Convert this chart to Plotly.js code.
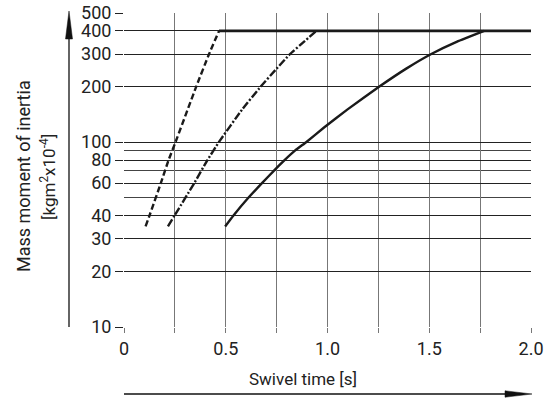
<!DOCTYPE html>
<html><head><meta charset="utf-8">
<script src="https://cdn.plot.ly/plotly-3.0.1.min.js"></script>
<style>html,body{margin:0;padding:0;background:#fff}#chart{width:553px;height:400px}</style>
</head><body><div id="chart"></div>
<script>
// Data
const dashedX = [0.106, 0.125, 0.181, 0.219, 0.253, 0.355, 0.418, 0.467];
const dashedY = [35, 40, 60, 80, 100, 200, 300, 400];
const dashDotX = [0.216, 0.248, 0.345, 0.410, 0.466, 0.580, 0.672, 0.750, 0.816, 0.885, 0.945];
const dashDotY = [35, 40, 60, 80, 100, 150, 200, 250, 300, 350, 400];
const solidX = [0.497, 0.537, 0.611, 0.678, 0.736, 0.789, 0.840, 0.895, 0.983, 1.097, 1.255, 1.387, 1.510, 1.637, 1.770];
const solidY = [35, 40, 50, 60, 70, 80, 90, 100, 120, 150, 200, 250, 300, 350, 400];
const plateauX = [0.467, 2.0];
const plateauY = [400, 400];

const xTickVals = [0, 0.25, 0.5, 0.75, 1.0, 1.25, 1.5, 1.75, 2.0];
const xTickText = ['0', '', '0.5', '', '1.0', '', '1.5', '', '2.0'];
const yTickVals = [10, 20, 30, 40, 60, 80, 100, 200, 300, 400, 500];
const yTickText = ['10', '20', '30', '40', '60', '80', '100', '200', '300', '400', '500'];
const yMinorGrid = [50, 70, 90];

const xTitle = 'Swivel time [s]';
const yTitle1 = 'Mass moment of inertia';
const yTitle2 = '[kgm<sup>2</sup>x10<sup>-4</sup>]';

const FONT = "Roboto, 'Liberation Sans', Arial, sans-serif";
const W = 553, H = 400;
const ML = 124, MR = 22, MT = 13, MB = 73;
const pw = W - ML - MR, ph = H - MT - MB;
const px = v => (v - ML) / pw;
const py = v => (H - MB - v) / ph;

const lineCol = '#1a1a1a';
const traces = [
  {x: dashedX, y: dashedY, mode: 'lines', line: {color: lineCol, width: 2.4, dash: '6px,3px', shape: 'spline', smoothing: 0.3}, hoverinfo: 'skip'},
  {x: dashDotX, y: dashDotY, mode: 'lines', line: {color: lineCol, width: 2.4, dash: '8px,2px,2px,2px', shape: 'spline', smoothing: 0.3}, hoverinfo: 'skip'},
  {x: solidX, y: solidY, mode: 'lines', line: {color: lineCol, width: 2.4, shape: 'spline', smoothing: 0.3}, hoverinfo: 'skip'},
  {x: plateauX, y: plateauY, mode: 'lines', line: {color: lineCol, width: 2.6}, hoverinfo: 'skip'}
];

const layout = {
  width: W, height: H,
  margin: {l: ML, r: MR, t: MT, b: MB, pad: 0},
  paper_bgcolor: '#fff', plot_bgcolor: '#fff',
  showlegend: false,
  font: {family: FONT, color: '#222'},
  xaxis: {
    range: [0, 2], tickmode: 'array', tickvals: xTickVals, ticktext: xTickText,
    showgrid: true, gridcolor: '#777', gridwidth: 1,
    ticks: 'outside', ticklen: 5, tickcolor: '#777', tickwidth: 1,
    zeroline: false, showline: false,
    tickfont: {family: FONT, size: 18, color: '#222'}
  },
  yaxis: {
    type: 'log', range: [1, Math.log10(500)],
    tickmode: 'array', tickvals: yTickVals, ticktext: yTickText,
    showgrid: true, gridcolor: '#222', gridwidth: 1,
    ticks: 'outside', ticklen: 8, tickcolor: '#222', tickwidth: 1,
    zeroline: false, showline: false,
    tickfont: {family: FONT, size: 18, color: '#222'},
    minor: {tickmode: 'array', tickvals: yMinorGrid, showgrid: true, gridcolor: '#444', gridwidth: 1, ticks: ''}
  },
  annotations: [
    {text: xTitle, xref: 'paper', yref: 'paper', x: px(303), y: py(379), showarrow: false,
     xanchor: 'center', yanchor: 'middle', font: {family: FONT, size: 17, color: '#222'}},
    {text: yTitle1, xref: 'paper', yref: 'paper', x: px(23), y: py(176), showarrow: false, textangle: -90,
     xanchor: 'center', yanchor: 'middle', font: {family: FONT, size: 18, color: '#222'}},
    {text: yTitle2, xref: 'paper', yref: 'paper', x: px(48), y: py(177), showarrow: false, textangle: -90,
     xanchor: 'center', yanchor: 'middle', font: {family: FONT, size: 17, color: '#222'}}
  ],
  shapes: [
    {type: 'line', xref: 'paper', yref: 'paper', x0: px(69), x1: px(69), y0: py(327), y1: py(36),
     line: {color: '#111', width: 1.3}},
    {type: 'path', xref: 'paper', yref: 'paper',
     path: `M ${px(69)} ${py(11)} L ${px(72.5)} ${py(39)} L ${px(65.5)} ${py(39)} Z`,
     fillcolor: '#111', line: {color: '#111', width: 0.5}},
    {type: 'line', xref: 'paper', yref: 'paper', x0: px(124), x1: px(508), y0: py(394), y1: py(394),
     line: {color: '#111', width: 1.3}},
    {type: 'path', xref: 'paper', yref: 'paper',
     path: `M ${px(532)} ${py(394)} L ${px(505)} ${py(390.8)} L ${px(505)} ${py(397.2)} Z`,
     fillcolor: '#111', line: {color: '#111', width: 0.5}}
  ]
};

Plotly.newPlot('chart', traces, layout, {staticPlot: true, displayModeBar: false});
</script>
</body></html>
